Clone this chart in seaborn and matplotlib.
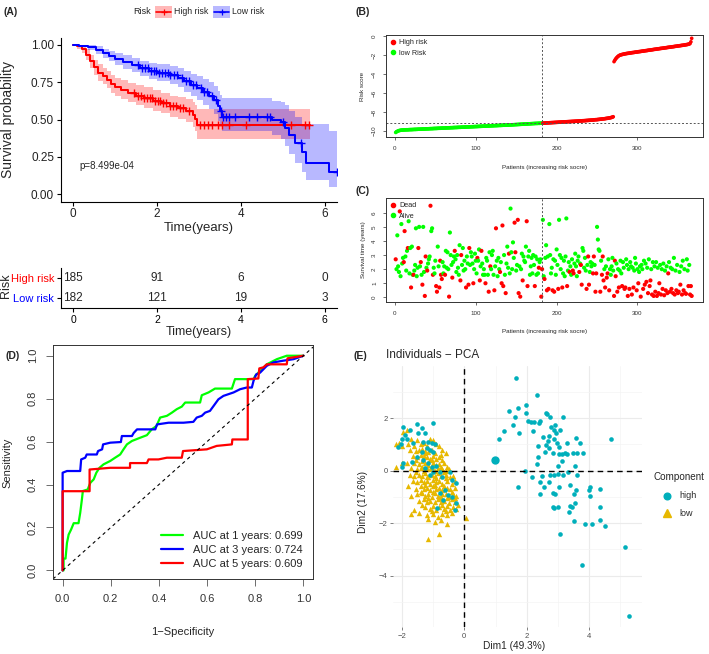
import numpy as np
import pandas as pd
import matplotlib
matplotlib.use("Agg")
import matplotlib.pyplot as plt
import seaborn as sns
from matplotlib.lines import Line2D
from matplotlib.patches import Rectangle

W, H = 709, 654

sns.set_style("ticks")
plt.rcParams["font.family"] = ["Liberation Sans", "DejaVu Sans"]

RED, BLUE, GREEN = "#FF0000", "#0000FF", "#00FF00"
TEAL, GOLD = "#00AFBB", "#E7B800"

# -------------------------------
# DATA (A) Kaplan-Meier
# -------------------------------
km_high_time = [0.00, 0.10, 0.20, 0.30, 0.40, 0.50, 0.60, 0.70, 0.80, 0.90,
                1.00, 1.15, 1.30, 1.50, 1.70, 1.90, 2.10, 2.30, 2.50, 2.70,
                2.85, 2.90, 2.95, 5.65]
km_high_surv = [1.000, 0.990, 0.970, 0.935, 0.890, 0.850, 0.815, 0.790, 0.765, 0.740,
                0.720, 0.700, 0.680, 0.660, 0.645, 0.625, 0.610, 0.590, 0.575, 0.555,
                0.530, 0.505, 0.465, 0.465]
km_high_lower = [1.000, 0.975, 0.945, 0.900, 0.845, 0.800, 0.760, 0.735, 0.710, 0.680,
                 0.660, 0.640, 0.620, 0.600, 0.580, 0.560, 0.545, 0.520, 0.505, 0.480,
                 0.450, 0.420, 0.370, 0.370]
km_high_upper = [1.000, 1.000, 0.995, 0.970, 0.935, 0.900, 0.870, 0.845, 0.825, 0.800,
                 0.780, 0.765, 0.745, 0.730, 0.715, 0.695, 0.680, 0.660, 0.650, 0.635,
                 0.615, 0.595, 0.570, 0.570]
cens_high = [1.45, 1.55, 1.62, 1.70, 1.76, 1.82, 1.88, 1.95, 2.02, 2.08, 2.15, 2.22,
             2.30, 2.38, 2.45, 2.55, 2.62, 2.75, 3.02, 3.12, 3.22, 3.32, 3.45, 3.55,
             3.72, 4.12, 5.20, 5.52, 5.62]

km_low_time = [0.00, 0.15, 0.35, 0.55, 0.70, 0.85, 1.00, 1.20, 1.40, 1.60,
               1.80, 2.00, 2.30, 2.50, 2.65, 2.80, 2.95, 3.10, 3.25, 3.35,
               3.45, 3.50, 3.55, 4.75, 4.95, 5.05, 5.15, 5.30, 5.45, 5.55,
               6.10, 6.30]
km_low_surv = [1.000, 0.995, 0.985, 0.965, 0.945, 0.925, 0.905, 0.885, 0.865, 0.845,
               0.825, 0.810, 0.800, 0.780, 0.755, 0.730, 0.710, 0.685, 0.660, 0.630,
               0.590, 0.560, 0.520, 0.500, 0.480, 0.440, 0.395, 0.340, 0.285, 0.210,
               0.145, 0.145]
km_low_lower = [1.000, 0.985, 0.965, 0.940, 0.915, 0.890, 0.865, 0.840, 0.820, 0.795,
                0.770, 0.755, 0.740, 0.715, 0.685, 0.655, 0.630, 0.600, 0.570, 0.535,
                0.490, 0.455, 0.420, 0.395, 0.370, 0.320, 0.270, 0.210, 0.150, 0.095,
                0.045, 0.045]
km_low_upper = [1.000, 1.000, 1.000, 0.990, 0.975, 0.960, 0.945, 0.930, 0.915, 0.895,
                0.880, 0.870, 0.860, 0.845, 0.825, 0.805, 0.790, 0.770, 0.750, 0.725,
                0.690, 0.665, 0.645, 0.625, 0.620, 0.600, 0.560, 0.520, 0.470, 0.470,
                0.420, 0.420]
cens_low = [1.55, 1.65, 1.72, 1.78, 1.85, 1.92, 1.98, 2.05, 2.12, 2.18, 2.25, 2.32,
            2.40, 2.48, 2.60, 2.70, 2.75, 2.85, 2.92, 3.05, 3.12, 3.20, 3.30, 3.40,
            3.52, 3.58, 3.65, 3.72, 3.85, 4.20, 4.38, 4.62, 4.70, 5.00, 5.42, 6.28]

risk_times = [0, 2, 4, 6]
n_at_risk_high = [185, 91, 6, 0]
n_at_risk_low = [182, 121, 19, 3]
p_value = "p=8.499e-04"

# -------------------------------
# DATA (B) risk score, sorted
# -------------------------------
n_low_risk = 182
n_high_risk = 185
risk_cutoff = -9.19
risk_score = [
    -10.15, -10.08, -10.03, -9.99, -9.96, -9.94, -9.92, -9.91, -9.90, -9.89,
    -9.89, -9.88, -9.88, -9.87, -9.87, -9.87, -9.86, -9.86, -9.85, -9.85,
    -9.85, -9.84, -9.84, -9.83, -9.83, -9.83, -9.82, -9.82, -9.81, -9.81,
    -9.81, -9.80, -9.80, -9.79, -9.79, -9.79, -9.78, -9.78, -9.77, -9.77,
    -9.77, -9.76, -9.76, -9.75, -9.75, -9.75, -9.74, -9.74, -9.73, -9.73,
    -9.73, -9.72, -9.72, -9.71, -9.71, -9.71, -9.70, -9.70, -9.69, -9.69,
    -9.69, -9.68, -9.68, -9.67, -9.67, -9.67, -9.66, -9.66, -9.65, -9.65,
    -9.65, -9.64, -9.64, -9.63, -9.63, -9.63, -9.62, -9.62, -9.61, -9.61,
    -9.61, -9.60, -9.60, -9.59, -9.59, -9.59, -9.58, -9.58, -9.57, -9.57,
    -9.57, -9.56, -9.56, -9.55, -9.55, -9.55, -9.54, -9.54, -9.53, -9.53,
    -9.53, -9.52, -9.52, -9.51, -9.51, -9.51, -9.50, -9.50, -9.49, -9.49,
    -9.49, -9.48, -9.48, -9.47, -9.47, -9.47, -9.46, -9.46, -9.45, -9.45,
    -9.45, -9.44, -9.44, -9.43, -9.43, -9.43, -9.42, -9.42, -9.41, -9.41,
    -9.41, -9.40, -9.40, -9.39, -9.39, -9.39, -9.38, -9.38, -9.37, -9.37,
    -9.37, -9.36, -9.36, -9.35, -9.35, -9.34, -9.34, -9.33, -9.33, -9.32,
    -9.32, -9.31, -9.31, -9.30, -9.30, -9.29, -9.29, -9.28, -9.28, -9.27,
    -9.27, -9.26, -9.26, -9.25, -9.25, -9.24, -9.24, -9.23, -9.23, -9.22,
    -9.22, -9.21, -9.21, -9.20, -9.20, -9.20, -9.19, -9.19, -9.19, -9.18,
    -9.18, -9.18,
    -9.17, -9.17, -9.16, -9.16, -9.15, -9.15, -9.14, -9.14, -9.13, -9.13,
    -9.12, -9.12, -9.11, -9.11, -9.10, -9.10, -9.09, -9.09, -9.08, -9.08,
    -9.07, -9.07, -9.06, -9.06, -9.05, -9.05, -9.04, -9.04, -9.03, -9.03,
    -9.02, -9.02, -9.01, -9.01, -9.00, -9.00, -8.99, -8.99, -8.98, -8.98,
    -8.97, -8.97, -8.96, -8.96, -8.95, -8.95, -8.94, -8.94, -8.93, -8.92,
    -8.92, -8.91, -8.91, -8.90, -8.89, -8.89, -8.88, -8.87, -8.87, -8.86,
    -8.85, -8.85, -8.84, -8.83, -8.82, -8.81, -8.81, -8.80, -8.79, -8.78,
    -8.77, -8.76, -8.75, -8.74, -8.73, -8.72, -8.71, -8.70, -8.68, -8.67,
    -8.66, -8.64, -8.63, -8.61, -8.59, -8.57, -8.54, -8.50,
    -2.70, -2.55, -2.42, -2.31, -2.22, -2.14, -2.08, -2.03, -2.00, -1.97,
    -1.95, -1.93, -1.91, -1.89, -1.87, -1.86, -1.84, -1.83, -1.82, -1.80,
    -1.79, -1.78, -1.76, -1.75, -1.74, -1.73, -1.71, -1.70, -1.69, -1.68,
    -1.66, -1.65, -1.64, -1.63, -1.61, -1.60, -1.59, -1.58, -1.56, -1.55,
    -1.54, -1.53, -1.51, -1.50, -1.49, -1.48, -1.46, -1.45, -1.44, -1.42,
    -1.41, -1.40, -1.39, -1.37, -1.36, -1.35, -1.34, -1.32, -1.31, -1.30,
    -1.29, -1.28, -1.26, -1.25, -1.24, -1.23, -1.21, -1.20, -1.19, -1.18,
    -1.17, -1.15, -1.14, -1.13, -1.12, -1.10, -1.09, -1.08, -1.07, -1.05,
    -1.04, -1.03, -1.02, -1.00, -0.99, -0.98, -0.97, -0.95, -0.94, -0.92,
    -0.91, -0.89, -0.87, -0.84, -0.80, -0.62, -0.25,
]

# -------------------------------
# DATA (C) survival time / status, same patient order
# -------------------------------
surv_time = [
    2.7, 2.0, 4.4, 2.2, 1.8, 6.1, 1.5, 5.2, 2.4, 2.8,
    2.5, 4.7, 2.9, 1.9, 3.3, 3.5, 5.4, 1.7, 3.5, 0.7,
    3.6, 1.6, 1.6, 1.9, 2.3, 4.9, 1.5, 2.1, 3.5, 5.0,
    2.2, 2.5, 1.6, 0.9, 5.0, 1.8, 0.1, 2.9, 2.1, 1.9,
    2.4, 2.7, 2.9, 6.5, 4.7, 4.9, 1.6, 2.1, 1.7, 2.6,
    0.8, 0.4, 3.6, 2.2, 0.7, 2.6, 1.6, 1.3, 2.5, 1.7,
    2.2, 1.6, 3.3, 2.1, 3.2, 2.0, 0.05, 4.6, 3.0, 2.3,
    1.4, 2.5, 2.9, 3.3, 2.7, 1.8, 3.0, 2.1, 1.6, 3.7,
    1.2, 3.0, 2.3, 3.5, 1.9, 2.6, 2.0, 0.7, 2.9, 2.4,
    0.9, 3.5, 2.3, 3.2, 2.9, 2.4, 1.0, 2.0, 3.1, 2.6,
    1.7, 2.8, 2.6, 3.4, 1.2, 2.2, 3.3, 2.4, 1.6, 2.0,
    1.6, 1.0, 2.8, 2.6, 1.6, 0.4, 3.2, 2.2, 2.0, 3.0,
    3.3, 1.6, 0.5, 2.2, 4.9, 2.6, 1.5, 2.8, 2.0, 1.8,
    2.5, 1.0, 5.1, 0.8, 3.0, 1.6, 0.3, 2.4, 3.6, 2.1,
    3.1, 1.7, 6.3, 3.2, 2.0, 3.9, 2.8, 5.3, 3.2, 1.9,
    2.3, 5.5, 0.3, 2.2, 0.05, 2.0, 3.1, 1.2, 2.9, 2.6,
    2.5, 3.6, 5.4, 0.8, 2.9, 3.3, 1.6, 2.2, 2.8, 1.7,
    3.0, 2.3, 0.8, 2.9, 1.6, 2.7, 1.7, 2.1, 2.5, 2.7, 0.05, 2.0,
    5.5, 1.5, 1.3, 2.8, 3.7, 0.5, 2.9, 0.6, 5.2, 3.0,
    1.7, 2.1, 0.5, 2.7, 0.4, 2.6, 1.6, 3.4, 2.3, 0.6,
    5.5, 3.0, 2.0, 2.8, 0.7, 1.7, 2.6, 1.5, 2.9, 5.6,
    0.8, 1.9, 2.5, 1.8, 2.2, 1.6, 2.7, 1.9, 1.7, 2.4,
    3.1, 2.2, 1.5, 2.6, 2.9, 1.8, 2.4, 2.3, 0.9, 3.5,
    3.3, 2.1, 2.8, 1.9, 0.6, 2.3, 2.9, 0.9, 1.8, 2.5,
    2.2, 2.4, 1.7, 2.9, 2.3, 0.4, 1.7, 5.0, 4.1, 3.4,
    3.3, 0.4, 2.6, 1.6, 2.9, 1.2, 2.0, 0.7, 2.2, 1.4,
    1.7, 2.7, 0.5, 2.0, 1.6, 2.2, 2.8, 1.9, 0.1, 2.6,
    1.5, 2.4, 0.4, 2.0, 0.7, 1.9, 2.6, 1.7, 0.8, 2.5,
    2.1, 0.6, 0.7, 2.7, 2.3, 0.1, 2.0, 0.6, 2.5, 2.2,
    0.2, 2.1, 0.7, 1.9, 2.8, 2.4, 0.5, 2.0, 1.0, 1.8,
    2.2, 0.05, 2.3, 2.0, 0.6, 2.6, 0.9, 2.4, 1.1, 2.1,
    0.3, 2.7, 0.8, 1.2, 2.0, 0.2, 2.5, 0.1, 2.2, 0.4,
    2.5, 0.1, 2.1, 0.3, 1.0, 2.3, 0.2, 2.0, 0.6, 2.4,
    0.15, 1.9, 0.5, 2.2, 0.3, 1.7, 2.5, 0.4, 2.1, 0.6,
    2.0, 0.3, 2.8, 0.2, 1.9, 0.5, 2.3, 0.3, 0.4, 1.8,
    0.9, 2.2, 0.2, 2.6, 0.5, 2.0, 0.3, 0.25, 2.7, 1.9,
    0.8, 2.3, 0.2, 0.8, 0.1,
]
surv_status = [
    1, 0, 0, 0, 0, 1, 0, 0, 0, 0,
    1, 1, 0, 0, 0, 1, 0, 0, 0, 1,
    0, 0, 1, 0, 0, 0, 0, 0, 1, 0,
    0, 1, 0, 1, 0, 0, 1, 1, 0, 1,
    0, 0, 0, 1, 0, 0, 1, 0, 0, 0,
    1, 1, 0, 0, 1, 1, 1, 1, 0, 0,
    0, 1, 0, 0, 0, 0, 1, 0, 0, 0,
    1, 0, 0, 1, 0, 0, 0, 0, 0, 0,
    1, 1, 0, 0, 0, 0, 0, 1, 0, 0,
    1, 1, 0, 0, 0, 0, 1, 0, 0, 0,
    0, 1, 0, 0, 1, 0, 1, 0, 0, 0,
    0, 1, 0, 0, 0, 1, 0, 1, 0, 0,
    0, 0, 1, 0, 1, 0, 0, 0, 0, 1,
    0, 1, 1, 1, 0, 0, 1, 0, 0, 0,
    1, 0, 0, 0, 0, 0, 0, 1, 1, 0,
    0, 1, 1, 0, 1, 0, 0, 1, 0, 0,
    0, 0, 1, 1, 0, 0, 0, 0, 0, 0,
    0, 0, 1, 0, 0, 0, 0, 1, 0, 0, 1, 1,
    0, 0, 1, 0, 0, 1, 0, 1, 0, 0,
    0, 0, 1, 0, 1, 0, 0, 0, 0, 1,
    0, 0, 0, 0, 1, 0, 0, 0, 0, 0,
    1, 0, 0, 1, 0, 0, 0, 1, 1, 0,
    0, 0, 0, 0, 0, 1, 0, 1, 1, 0,
    0, 0, 0, 0, 1, 0, 1, 1, 0, 0,
    0, 0, 1, 1, 0, 1, 1, 0, 0, 0,
    0, 1, 0, 1, 1, 1, 0, 1, 0, 1,
    1, 0, 1, 0, 0, 0, 0, 0, 1, 1,
    1, 0, 1, 0, 1, 0, 0, 0, 1, 0,
    0, 1, 1, 0, 0, 1, 0, 1, 0, 0,
    1, 0, 1, 0, 0, 0, 1, 0, 1, 0,
    0, 1, 0, 0, 1, 0, 1, 0, 1, 0,
    1, 0, 1, 1, 0, 1, 0, 1, 0, 1,
    0, 1, 0, 1, 1, 0, 1, 0, 1, 0,
    1, 0, 1, 0, 1, 1, 0, 1, 0, 1,
    0, 1, 0, 1, 0, 1, 0, 1, 1, 0,
    1, 0, 1, 0, 1, 0, 1, 1, 0, 0,
    1, 0, 1, 1, 1,
]

# -------------------------------
# DATA (D) time-dependent ROC
# -------------------------------
roc1_fpr = [0.000, 0.004, 0.004, 0.012, 0.018, 0.025, 0.035, 0.046, 0.066, 0.073,
            0.080, 0.084, 0.104, 0.115, 0.129, 0.140, 0.153, 0.170, 0.198, 0.218,
            0.239, 0.253, 0.267, 0.288, 0.322, 0.350, 0.370, 0.390, 0.405, 0.433,
            0.454, 0.474, 0.495, 0.509, 0.571, 0.578, 0.606, 0.633, 0.703, 0.716,
            0.793, 0.800, 0.834, 0.848, 0.890, 0.931, 1.000]
roc1_tpr = [0.000, 0.000, 0.055, 0.055, 0.128, 0.167, 0.190, 0.220, 0.220, 0.268,
            0.330, 0.370, 0.377, 0.408, 0.424, 0.455, 0.478, 0.494, 0.510, 0.525,
            0.540, 0.564, 0.587, 0.603, 0.618, 0.630, 0.657, 0.673, 0.712, 0.720,
            0.735, 0.751, 0.763, 0.782, 0.782, 0.816, 0.829, 0.847, 0.847, 0.891,
            0.891, 0.907, 0.944, 0.960, 0.984, 1.000, 1.000]
roc3_fpr = [0.000, 0.000, 0.018, 0.073, 0.077, 0.094, 0.100, 0.142, 0.147, 0.164,
            0.168, 0.198, 0.242, 0.246, 0.288, 0.295, 0.309, 0.385, 0.392, 0.440,
            0.502, 0.543, 0.557, 0.578, 0.592, 0.612, 0.627, 0.647, 0.668, 0.710,
            0.737, 0.765, 0.786, 0.793, 0.804, 0.820, 0.848, 0.876, 0.917, 0.959,
            1.000]
roc3_tpr = [0.000, 0.455, 0.463, 0.463, 0.517, 0.525, 0.540, 0.540, 0.556, 0.564,
            0.587, 0.595, 0.598, 0.626, 0.626, 0.640, 0.657, 0.657, 0.680, 0.688,
            0.688, 0.692, 0.712, 0.720, 0.735, 0.743, 0.766, 0.797, 0.813, 0.829,
            0.844, 0.852, 0.852, 0.883, 0.913, 0.921, 0.953, 0.969, 0.977, 0.984,
            1.000]
roc5_fpr = [0.000, 0.000, 0.112, 0.112, 0.198, 0.280, 0.280, 0.350, 0.357, 0.398,
            0.433, 0.495, 0.500, 0.599, 0.640, 0.703, 0.705, 0.769, 0.769, 0.813,
            0.817, 0.834, 0.848, 0.931, 0.934, 1.000]
roc5_tpr = [0.000, 0.369, 0.369, 0.470, 0.478, 0.478, 0.500, 0.500, 0.517, 0.517,
            0.525, 0.525, 0.556, 0.564, 0.580, 0.587, 0.610, 0.610, 0.891, 0.894,
            0.941, 0.946, 0.960, 0.960, 0.988, 1.000]
roc_labels = ["AUC at 1 years: 0.699", "AUC at 3 years: 0.724", "AUC at 5 years: 0.609"]

# -------------------------------
# DATA (E) PCA individuals
# -------------------------------
pca_high = [
    (1.65, 3.53), (2.32, 2.87), (1.42, 2.28), (1.73, 2.39), (1.97, 2.49), (1.62, 2.03),
    (1.97, 2.20), (2.05, 1.90), (2.15, 1.86), (2.22, 1.85), (2.42, 1.90), (2.40, 1.80),
    (2.61, 2.18), (2.64, 2.16), (2.76, 2.03), (3.15, 2.03), (1.28, 1.52), (1.10, 1.22),
    (1.57, 1.73), (1.76, 1.42), (2.19, 1.51), (2.51, 1.27), (2.71, 1.32), (2.77, 1.67),
    (2.87, 1.54), (2.93, 1.42), (3.08, 1.54), (2.91, 1.73), (2.37, 0.94), (2.61, 0.97),
    (2.69, 1.13), (2.87, 1.19), (2.96, 1.04), (3.03, 0.89), (3.28, 1.04), (3.58, 1.23),
    (3.70, 1.04), (3.14, 0.63), (3.22, 0.66), (3.30, 0.63), (3.47, 0.68), (3.60, 0.68),
    (3.81, 0.66), (4.69, 1.19), (2.72, 0.85), (2.83, 0.68), (2.37, 0.53), (2.59, 0.72),
    (3.04, 0.63), (2.34, 0.25), (1.95, 0.00), (3.01, 0.18), (3.12, 0.38), (3.55, 0.18),
    (2.16, -0.23), (2.48, -0.20), (2.74, -0.18), (2.88, -0.18), (3.01, -0.13), (3.17, -0.16),
    (3.33, -0.04), (3.60, -0.16), (2.72, -0.42), (3.03, -0.61), (3.40, -0.54), (3.58, -0.73),
    (3.99, -0.73), (4.04, -0.63), (4.36, -0.71), (4.02, -0.96), (1.73, -0.61), (2.43, -0.89),
    (2.85, -0.84), (2.91, -0.89), (2.42, -0.42), (2.56, -0.61), (2.85, -1.37), (2.87, -1.43),
    (3.01, -1.39), (3.38, -1.34), (3.44, -1.37), (3.36, -1.56), (3.51, -0.90), (3.54, -1.22),
    (4.36, -1.37), (3.06, -2.41), (3.51, -1.91), (3.86, -2.04), (4.10, -2.04), (4.34, -1.90),
    (4.50, -2.10), (3.78, -3.58), (5.15, -2.91), (5.28, -5.52),
    (-1.97, 1.67), (-1.50, 1.77), (-1.37, 1.61), (-0.99, 1.82), (-1.74, 1.54), (-1.90, 1.37),
    (-1.99, 1.19), (-1.85, 1.19), (-2.12, 0.89), (-2.04, 1.00), (-1.63, 1.04), (-1.47, 1.42),
    (-1.26, 1.42), (-1.33, 1.10), (-1.15, 1.10), (-1.05, 1.06), (-0.94, 1.01), (-1.21, 0.85),
    (-1.10, 0.78), (-0.99, 0.72), (-1.37, 0.72), (-1.53, 0.53), (-1.31, 0.41), (-1.15, 0.28),
    (-1.26, 0.09), (-1.05, 0.13), (-0.91, 0.18), (-0.78, -0.04), (-0.99, -0.04), (-0.46, -0.04),
    (-1.10, -0.16), (-1.95, 0.28), (-2.01, 0.15), (-1.69, 0.34), (-0.73, -0.23), (-0.41, -0.35),
    (-0.25, -0.48), (-0.62, -0.73), (-0.78, -0.84), (-0.51, -0.92), (-0.41, -0.99), (-0.67, -1.11),
    (-0.89, -1.43), (-0.25, -1.24), (-0.30, -1.49),
]
pca_high_mean = (0.98, 0.40)
pca_low = [
    (-1.85, 1.55), (-1.95, 1.48),
    (-2.10, 1.05), (-2.20, 1.00), (-1.70, 1.20), (-1.50, 1.15), (-1.10, 1.20), (-1.00, 1.15),
    (-2.00, 0.95), (-1.80, 1.00), (-1.60, 0.95), (-1.40, 1.00), (-1.30, 1.05), (-1.20, 0.95),
    (-0.90, 1.00), (-0.80, 0.95),
    (-1.75, 0.80), (-1.55, 0.75), (-1.45, 0.80), (-1.35, 0.82), (-1.25, 0.75), (-1.15, 0.70),
    (-1.05, 0.80), (-0.70, 0.80), (-0.60, 0.65),
    (-1.65, 0.55), (-1.50, 0.50), (-1.40, 0.60), (-1.30, 0.55), (-1.20, 0.50), (-1.10, 0.45),
    (-1.00, 0.55), (-0.90, 0.45), (-0.80, 0.50), (-0.70, 0.40),
    (-2.00, 0.30), (-1.85, 0.30), (-1.60, 0.30), (-1.45, 0.25), (-1.35, 0.35), (-1.25, 0.30),
    (-1.15, 0.20), (-1.00, 0.30), (-0.90, 0.20), (-0.80, 0.25), (-0.65, 0.30), (-0.55, 0.15),
    (-2.20, 0.12), (-1.70, 0.10), (-1.50, 0.05), (-1.40, 0.10), (-1.30, 0.00), (-1.20, 0.10),
    (-1.10, 0.05), (-0.95, 0.00), (-0.85, 0.10), (-0.70, 0.05), (-0.60, 0.00), (-0.50, 0.05),
    (-1.75, -0.15), (-1.60, -0.20), (-1.45, -0.15), (-1.35, -0.20), (-1.25, -0.10), (-1.15, -0.25),
    (-1.05, -0.15), (-0.95, -0.20), (-0.85, -0.10), (-0.75, -0.20), (-0.60, -0.15), (-0.45, -0.25),
    (-0.35, -0.20),
    (-1.65, -0.40), (-1.50, -0.45), (-1.40, -0.35), (-1.30, -0.45), (-1.20, -0.40), (-1.10, -0.50),
    (-1.00, -0.35), (-0.90, -0.45), (-0.80, -0.40), (-0.70, -0.50), (-0.55, -0.40), (-0.40, -0.50),
    (-0.30, -0.40),
    (-1.80, -0.60), (-1.55, -0.70), (-1.40, -0.60), (-1.30, -0.70), (-1.20, -0.65), (-1.10, -0.75),
    (-1.00, -0.60), (-0.90, -0.70), (-0.80, -0.65), (-0.70, -0.75), (-0.55, -0.65), (-0.45, -0.70),
    (-0.30, -0.65),
    (-1.70, -0.95), (-1.50, -0.90), (-1.35, -0.85), (-1.25, -0.95), (-1.15, -0.90), (-1.05, -1.00),
    (-0.95, -0.85), (-0.85, -0.95), (-0.75, -1.00), (-0.60, -0.90), (-0.50, -1.00), (-0.35, -0.90),
    (-0.25, -0.95),
    (-1.45, -1.15), (-1.30, -1.10), (-1.20, -1.20), (-1.10, -1.15), (-0.95, -1.20), (-0.85, -1.10),
    (-0.75, -1.20), (-0.65, -1.15), (-0.50, -1.25), (-0.40, -1.10), (-0.30, -1.20), (-0.20, -1.30),
    (-1.60, -1.50), (-1.25, -1.40), (-1.10, -1.45), (-1.00, -1.35), (-0.90, -1.50), (-0.80, -1.40),
    (-0.65, -1.45), (-0.55, -1.35), (-0.45, -1.50), (-0.35, -1.40), (-0.25, -1.45),
    (-1.70, -1.65), (-1.45, -1.60), (-1.20, -1.70), (-1.00, -1.65), (-0.85, -1.75), (-0.70, -1.65),
    (-0.55, -1.70), (-0.40, -1.60), (0.05, -1.80),
    (-1.15, -1.85), (-0.95, -1.95), (-0.75, -1.90), (-0.55, -2.05),
    (-0.80, -2.40), (-1.15, -2.60),
    (-1.55, 0.40), (-1.25, 0.65), (-0.95, 0.65), (-1.05, 0.40), (-0.75, 0.60), (-1.35, 0.15),
    (-1.05, 0.15), (-0.75, 0.15), (-0.65, -0.05), (-1.55, -0.05), (-1.20, -0.25), (-0.90, -0.30),
    (-0.60, -0.30), (-1.25, -0.55), (-0.95, -0.55), (-0.65, -0.60), (-0.40, -0.80), (-1.40, -0.80),
    (-1.00, -0.80), (-0.70, -0.90), (-1.15, -1.05), (-0.80, -1.05), (-0.55, -1.05), (-1.35, -1.30),
    (-0.70, -1.30), (-0.30, -1.05), (-1.05, -1.55), (-0.60, -1.55),
]

# -------------------------------
# FIGURE
# -------------------------------
fig = plt.figure(figsize=(W / 100, H / 100), dpi=100)


def px_axes(left, top, right, bottom):
    return fig.add_axes([left / W, 1 - bottom / H, (right - left) / W, (bottom - top) / H])


def px_text(x, y, s, **kw):
    kw.setdefault("ha", "center")
    kw.setdefault("va", "center")
    fig.text(x / W, 1 - y / H, s, **kw)


def r_box(ax, size):
    # base-R look: full box, outward ticks, rotated y labels
    for sp in ax.spines.values():
        sp.set_visible(True)
        sp.set_color("#333333")
        sp.set_linewidth(0.7)
    ax.tick_params(direction="out", length=2.5, width=0.5, labelsize=size, pad=4,
                   colors="#333333")
    ax.tick_params(axis="y", labelrotation=90)
    for lbl in ax.get_yticklabels():
        lbl.set_va("center")
    ax.set_xlabel("")
    ax.set_ylabel("")


# ---- (A) survival curves ----
axA = px_axes(61, 37.5, 337, 201.5)
km = [(km_high_time, km_high_surv, km_high_lower, km_high_upper, cens_high, RED),
      (km_low_time, km_low_surv, km_low_lower, km_low_upper, cens_low, BLUE)]
for t, s, lo, hi, cens, col in km:
    axA.fill_between(t, lo, hi, step="post", color=col, alpha=0.28, lw=0)
    sns.lineplot(x=t, y=s, drawstyle="steps-post", estimator=None, sort=False,
                 color=col, lw=1.45, ax=axA)
    idx = np.searchsorted(t, cens, side="right") - 1
    axA.plot(cens, np.asarray(s)[idx], ls="none", marker="+", ms=5.5, mew=1.0, color=col)
axA.set(xlim=(-0.29, 6.29), ylim=(-0.05, 1.05), xlabel="", ylabel="")
axA.set_xticks([0, 2, 4, 6])
axA.set_yticks([0, 0.25, 0.5, 0.75, 1.0])
axA.set_yticklabels(["0.00", "0.25", "0.50", "0.75", "1.00"])
sns.despine(ax=axA)
for sp in ("left", "bottom"):
    axA.spines[sp].set_color("black")
    axA.spines[sp].set_linewidth(0.8)
axA.tick_params(direction="out", length=3, width=0.8, labelsize=8.5, pad=2,
                colors="black", labelcolor="#222222")
axA.text(0.14, 0.19, p_value, fontsize=7, ha="left", va="center")

# risk table
axT = px_axes(61, 268, 337, 308)
for counts, row in ((n_at_risk_high, 1), (n_at_risk_low, 0)):
    for t, v in zip(risk_times, counts):
        axT.text(t, row, str(v), ha="center", va="center", fontsize=8.5)
axT.set(xlim=(-0.29, 6.29), ylim=(-0.55, 1.55))
axT.set_xticks(risk_times)
axT.set_yticks([1, 0])
axT.set_yticklabels(["High risk", "Low risk"])
sns.despine(ax=axT)
for sp in ("left", "bottom"):
    axT.spines[sp].set_color("black")
    axT.spines[sp].set_linewidth(0.8)
axT.tick_params(direction="out", length=3, width=0.8, labelsize=7.5, pad=2, colors="black")
axT.tick_params(axis="y", labelsize=8)
for lbl, col in zip(axT.get_yticklabels(), [RED, BLUE]):
    lbl.set_color(col)

px_text(4, 12, "(A)", ha="left", fontsize=7.5, fontweight="bold")
px_text(8, 120, "Survival probability", rotation=90, fontsize=10)
px_text(199, 228, "Time(years)", fontsize=9.5)
px_text(199, 332, "Time(years)", fontsize=9)
px_text(6, 286, "Risk", rotation=90, fontsize=9)

# ---- (B) risk score ----
axB = px_axes(386, 35, 703, 137)
dfB = pd.DataFrame({
    "patient": np.arange(1, len(risk_score) + 1),
    "score": risk_score,
    "group": ["low Risk"] * n_low_risk + ["High risk"] * n_high_risk,
})
sns.scatterplot(data=dfB, x="patient", y="score", hue="group",
                palette={"High risk": RED, "low Risk": GREEN},
                s=7, linewidth=0, legend=False, ax=axB)
axB.axvline(n_low_risk + 0.5, ls=(0, (2, 2)), color="#555555", lw=0.7)
axB.axhline(risk_cutoff, ls=(0, (2, 2)), color="#555555", lw=0.7)
axB.set(xlim=(-11, 381), ylim=(-10.63, 0.1))
axB.set_xticks([0, 100, 200, 300])
axB.set_yticks([-10, -8, -6, -4, -2, 0])
r_box(axB, 4.5)
axB.legend(handles=[
    Line2D([0], [0], marker="o", ls="none", color=RED, ms=3, label="High risk"),
    Line2D([0], [0], marker="o", ls="none", color=GREEN, ms=3, label="low Risk")],
    loc="upper left", fontsize=5.2, frameon=False, handlelength=0.8,
    handletextpad=0.4, labelspacing=0.45, borderaxespad=0.2, borderpad=0.4)
px_text(355, 12, "(B)", ha="left", fontsize=7.5, fontweight="bold")
px_text(363, 86, "Risk score", rotation=90, fontsize=4.5)
px_text(545, 168, "Patients (increasing risk socre)", fontsize=4.5)

# ---- (C) survival status ----
axC = px_axes(386, 198, 703, 302)
dfC = pd.DataFrame({
    "patient": np.arange(1, len(surv_time) + 1),
    "time": surv_time,
    "state": ["Dead" if v == 1 else "Alive" for v in surv_status],
})
sns.scatterplot(data=dfC, x="patient", y="time", hue="state",
                palette={"Dead": RED, "Alive": GREEN},
                s=9, linewidth=0, legend=False, ax=axC)
axC.axvline(n_low_risk + 0.5, ls=(0, (2, 2)), color="#555555", lw=0.7)
axC.set(xlim=(-11, 381), ylim=(-0.33, 7.05))
axC.set_xticks([0, 100, 200, 300])
axC.set_yticks([0, 1, 2, 3, 4, 5, 6])
r_box(axC, 4.5)
axC.legend(handles=[
    Line2D([0], [0], marker="o", ls="none", color=RED, ms=3, label="Dead"),
    Line2D([0], [0], marker="o", ls="none", color=GREEN, ms=3, label="Alive")],
    loc="upper left", fontsize=5.2, frameon=False, handlelength=0.8,
    handletextpad=0.4, labelspacing=0.45, borderaxespad=0.2, borderpad=0.4)
px_text(355, 191, "(C)", ha="left", fontsize=7.5, fontweight="bold")
px_text(363, 250, "Survival time (years)", rotation=90, fontsize=4.5)
px_text(545, 332, "Patients (increasing risk socre)", fontsize=4.5)

# ---- (D) ROC ----
axD = px_axes(53, 345, 313, 579)
for fpr, tpr, col, lab in [(roc1_fpr, roc1_tpr, GREEN, roc_labels[0]),
                           (roc3_fpr, roc3_tpr, BLUE, roc_labels[1]),
                           (roc5_fpr, roc5_tpr, RED, roc_labels[2])]:
    sns.lineplot(x=fpr, y=tpr, sort=False, estimator=None, color=col, lw=1.6,
                 label=lab, ax=axD)
axD.axline((0, 0), slope=1, ls=(0, (3, 3)), color="black", lw=0.8)
axD.set(xlim=(-0.04, 1.04), ylim=(-0.04, 1.05))
axD.set_xticks([0, 0.2, 0.4, 0.6, 0.8, 1.0])
axD.set_yticks([0, 0.2, 0.4, 0.6, 0.8, 1.0])
axD.set_xticklabels(["0.0", "0.2", "0.4", "0.6", "0.8", "1.0"])
axD.set_yticklabels(["0.0", "0.2", "0.4", "0.6", "0.8", "1.0"])
r_box(axD, 8)
axD.tick_params(length=5, pad=6)
axD.legend(loc="lower right", fontsize=8, frameon=False, handlelength=2.0,
           handletextpad=0.9, labelspacing=0.35, borderaxespad=0.6, borderpad=0.3)
px_text(5, 356, "(D)", ha="left", fontsize=7.5, fontweight="bold")
px_text(7, 463, "Sensitivity", rotation=90, fontsize=8)
px_text(183, 632, "1\u2212Specificity", fontsize=8)

# ---- (E) PCA ----
axE = px_axes(393, 366, 642, 627.4)
dfE_high = pd.DataFrame(pca_high, columns=["dim1", "dim2"])
dfE_low = pd.DataFrame(pca_low, columns=["dim1", "dim2"])
axE.set(xlim=(-2.285, 5.695), ylim=(-5.97, 3.98))
axE.set_xticks([-2, 0, 2, 4])
axE.set_xticks([-1, 1, 3, 5], minor=True)
axE.set_yticks([-4, -2, 0, 2])
axE.set_yticks([-5, -3, -1, 1, 3], minor=True)
axE.grid(which="major", color="#EBEBEB", lw=0.8)
axE.grid(which="minor", color="#F4F4F4", lw=0.5)
axE.set_axisbelow(True)
for sp in axE.spines.values():
    sp.set_visible(False)
axE.axhline(0, ls=(0, (4, 3)), color="black", lw=1.0)
axE.axvline(0, ls=(0, (4, 3)), color="black", lw=1.0)
sns.scatterplot(data=dfE_low, x="dim1", y="dim2", marker="^", color=GOLD, s=15,
                linewidth=0, ax=axE)
sns.scatterplot(data=dfE_high, x="dim1", y="dim2", marker="o", color=TEAL, s=11,
                linewidth=0, ax=axE)
sns.scatterplot(x=[pca_high_mean[0]], y=[pca_high_mean[1]], marker="o", color=TEAL,
                s=36, linewidth=0, ax=axE)
axE.set_xlabel("")
axE.set_ylabel("")
axE.tick_params(which="major", length=2, width=0.5, colors="#4D4D4D", labelsize=5.5, pad=2)
axE.tick_params(which="minor", length=0)
px_text(353, 356, "(E)", ha="left", fontsize=7.5, fontweight="bold")
px_text(386, 355, "Individuals \u2212 PCA", ha="left", fontsize=8.5)
px_text(514, 646, "Dim1 (49.3%)", fontsize=7.3)
px_text(363, 502, "Dim2 (17.6%)", rotation=90, fontsize=7.3)

# overlay in pixel coordinates for the hand-placed legends
ov = fig.add_axes([0, 0, 1, 1])
ov.set_xlim(0, W)
ov.set_ylim(H, 0)
ov.axis("off")

# legend A (top strip)
px_text(142, 12, "Risk", fontsize=6.5)
for x0, col, lab in ((155, RED, "High risk"), (213, BLUE, "Low risk")):
    ov.add_patch(Rectangle((x0, 6), 17, 12, color=col, alpha=0.28, lw=0))
    ov.plot([x0 + 1, x0 + 16], [12, 12], color=col, lw=1.2)
    ov.plot([x0 + 8.5], [12], marker="+", ms=5, mew=0.9, color=col)
    px_text(x0 + 19.5, 12, lab, ha="left", fontsize=6.3)

# legend E
px_text(654, 477, "Component", ha="left", fontsize=7.1)
ov.plot([667], [496], marker="o", ms=4.8, color=TEAL, ls="none")
ov.plot([667], [513], marker="^", ms=5.4, color=GOLD, ls="none")
px_text(679, 496, "high", ha="left", fontsize=6.5)
px_text(679, 513, "low", ha="left", fontsize=6.5)

fig.savefig("out.png", dpi=100)
